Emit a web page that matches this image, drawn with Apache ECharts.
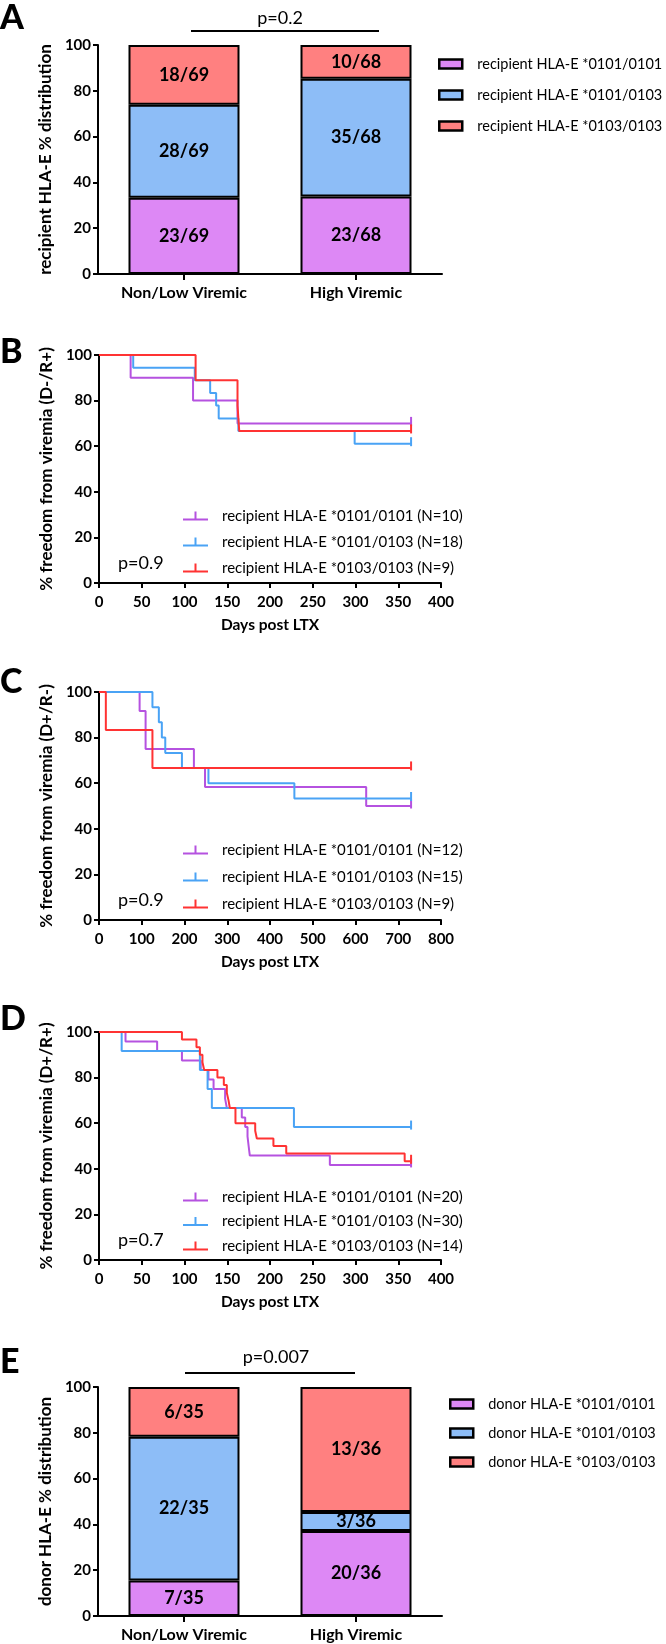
<!DOCTYPE html>
<html>
<head>
<meta charset="utf-8">
<script src="https://cdn.jsdelivr.net/npm/echarts@6/dist/echarts.min.js"></script>
<style>html,body{margin:0;padding:0;background:#fff}#c{width:666px;height:1644px}</style>
</head>
<body>
<div id="c"></div>
<script>
// ---------- DATA ----------
const categories = ['Non/Low Viremic', 'High Viremic'];

const aNames = ['recipient HLA-E *0101/0101', 'recipient HLA-E *0101/0103', 'recipient HLA-E *0103/0103'];
const aPct = [[33.3, 33.8], [40.6, 51.5], [26.1, 14.7]];
const aLabels = [['23/69', '23/68'], ['28/69', '35/68'], ['18/69', '10/68']];

const eNames = ['donor HLA-E *0101/0101', 'donor HLA-E *0101/0103', 'donor HLA-E *0103/0103'];
const ePct = [[15.5, 37.1], [62.8, 8.3], [21.7, 54.6]];
const eLabels = [['7/35', '20/36'], ['22/35', '3/36'], ['6/35', '13/36']];

// Panel B (D-/R+)
const bNames = ['recipient HLA-E *0101/0101 (N=10)', 'recipient HLA-E *0101/0103 (N=18)', 'recipient HLA-E *0103/0103 (N=9)'];
const bPurpleT = [0, 37, 110, 162, 365];
const bPurpleS = [100, 90, 80, 70, 70];
const bBlueT = [0, 40, 112, 130, 137, 140, 163, 299, 365];
const bBlueS = [100, 94.4, 88.9, 83.3, 77.8, 72.2, 66.7, 61.1, 61.1];
const bRedT = [0, 113, 162, 164, 365];
const bRedS = [100, 88.9, 77.8, 66.7, 66.7];
const bCensor = [365];

// Panel C (D+/R-)
const cNames = ['recipient HLA-E *0101/0101 (N=12)', 'recipient HLA-E *0101/0103 (N=15)', 'recipient HLA-E *0103/0103 (N=9)'];
const cPurpleT = [0, 95, 109, 222, 248, 625, 730];
const cPurpleS = [100, 91.7, 75, 66.7, 58.3, 50, 50];
const cBlueT = [0, 125, 140, 147, 155, 194, 256, 457, 730];
const cBlueS = [100, 93.3, 86.7, 80, 73.3, 66.7, 60, 53.3, 53.3];
const cRedT = [0, 16, 125, 730];
const cRedS = [100, 83.3, 66.7, 66.7];
const cCensor = [730];

// Panel D (D+/R+)
const dNames = ['recipient HLA-E *0101/0101 (N=20)', 'recipient HLA-E *0101/0103 (N=30)', 'recipient HLA-E *0103/0103 (N=14)'];
const dPurpleT = [0, 31, 68, 97, 119, 128, 134, 147.5, 149.5, 167, 171, 173.7, 175, 176.4, 270, 365];
const dPurpleS = [100, 95.8, 91.7, 87.5, 83.3, 79.2, 75, 70.8, 66.7, 62.5, 58.3, 54.2, 50, 45.8, 41.7, 41.7];
const dBlueT = [0, 26.5, 118, 127, 132, 228, 365];
const dBlueS = [100, 91.7, 83.3, 75, 66.7, 58.3, 58.3];
const dRedT = [0, 97, 114, 118, 121, 123, 138.5, 146, 149.5, 151.5, 153, 159.6, 182.7, 184.6, 204, 219, 357.5, 365];
const dRedS = [100, 96.7, 93.3, 90, 86.7, 83.3, 80, 76.7, 73.3, 70, 66.7, 60, 56.7, 53.3, 50, 46.7, 43.3, 43.3];
const dCensor = [365];

// ---------- STYLE ----------
const FONT = 'Lato';
const barColors = ['#DD88F5', '#8DBDF7', '#FF8080'];
const lineColors = ['#B552E0', '#4AA3F5', '#FF3333'];

const grids = [
  {left: 98, top: 45, width: 344, height: 229},
  {left: 99, top: 355, width: 342, height: 228},
  {left: 99, top: 692, width: 342, height: 228},
  {left: 99, top: 1032, width: 342, height: 228},
  {left: 98, top: 1387, width: 344, height: 229}
];

function yAxisFor(gi, name) {
  return {
    type: 'value', gridIndex: gi, min: 0, max: 100, interval: 20,
    name: name, nameLocation: 'middle', nameGap: 33,
    nameTextStyle: {fontFamily: FONT, fontWeight: 'bold', fontSize: 17, color: '#000'},
    axisLine: {show: true, lineStyle: {color: '#000', width: 2}},
    axisTick: {show: true, length: 5, lineStyle: {color: '#000', width: 2}},
    axisLabel: {fontFamily: FONT, fontWeight: 'bold', fontSize: 15, color: '#000', margin: 7},
    splitLine: {show: false}
  };
}
function catAxisFor(gi) {
  return {
    type: 'category', gridIndex: gi, data: categories,
    axisLine: {show: true, lineStyle: {color: '#000', width: 2}},
    axisTick: {show: true, alignWithLabel: true, length: 6, lineStyle: {color: '#000', width: 2}},
    axisLabel: {fontFamily: FONT, fontWeight: 'bold', fontSize: 16, color: '#000', margin: 11}
  };
}
function valXAxisFor(gi, max, interval) {
  return {
    type: 'value', gridIndex: gi, min: 0, max: max, interval: interval,
    name: 'Days post LTX', nameLocation: 'middle', nameGap: 34,
    nameTextStyle: {fontFamily: FONT, fontWeight: 'bold', fontSize: 15.5, color: '#000'},
    axisLine: {show: true, onZero: false, lineStyle: {color: '#000', width: 2}},
    axisTick: {show: true, length: 5, lineStyle: {color: '#000', width: 2}},
    axisLabel: {fontFamily: FONT, fontWeight: 'bold', fontSize: 15, color: '#000', margin: 12},
    splitLine: {show: false}
  };
}

function barSeries(names, pct, labels, gi) {
  return names.map((n, k) => ({
    type: 'bar', name: n, stack: 'st' + gi, xAxisIndex: gi, yAxisIndex: gi,
    barWidth: 111,
    data: pct[k].map((v, j) => ({value: v, lab: labels[k][j]})),
    itemStyle: {color: barColors[k], borderColor: '#000', borderWidth: 2},
    label: {show: true, position: 'inside', formatter: p => p.data.lab,
      fontFamily: FONT, fontWeight: 'bold', fontSize: 18, color: '#000'}
  }));
}

function kmSeries(name, T, S, censor, color, gi) {
  return {
    type: 'line', name: name, step: 'end', xAxisIndex: gi, yAxisIndex: gi,
    symbol: 'none', showSymbol: true,
    lineStyle: {color: color, width: 2},
    itemStyle: {color: color},
    data: T.map((t, i) => {
      const it = {value: [t, S[i]]};
      if (censor.indexOf(t) >= 0 && i === T.length - 1) {
        it.symbol = 'rect'; it.symbolSize = [2, 9]; it.symbolOffset = [0, -2];
      }
      return it;
    }),
    animation: false
  };
}

const kmIcon = 'path://M0,7h25v2h-25z M11.5,0h2v7h-2z';
function kmLegend(names, left, top, gap) {
  return {
    data: names, orient: 'vertical', left: left, top: top, itemGap: gap, padding: 0,
    icon: kmIcon, itemWidth: 25, itemHeight: 9, selectedMode: false,
    textStyle: {fontFamily: FONT, fontSize: 15, color: '#000', padding: [0, 0, 0, 9], lineHeight: 16}
  };
}
function barLegend(names, left, top, gap) {
  return {
    data: names, orient: 'vertical', left: left, top: top, itemGap: gap, padding: 0,
    icon: 'rect', itemWidth: 23, itemHeight: 9, selectedMode: false,
    itemStyle: {borderColor: '#000', borderWidth: 2.5},
    textStyle: {fontFamily: FONT, fontSize: 14.5, color: '#000', padding: [0, 0, 0, 10], lineHeight: 16}
  };
}

function txt(x, y, s, size, weight, align) {
  return {type: 'text', x: x, y: y, style: {text: s, fontFamily: FONT, fontSize: size, fontWeight: weight || 'normal',
    fill: '#000', align: align || 'left', verticalAlign: 'middle'}};
}
function hline(x1, x2, y) {
  return {type: 'line', shape: {x1: x1, y1: y, x2: x2, y2: y}, style: {stroke: '#000', lineWidth: 2}};
}

const option = {
  animation: false,
  grid: grids,
  xAxis: [catAxisFor(0), valXAxisFor(1, 400, 50), valXAxisFor(2, 800, 100), valXAxisFor(3, 400, 50), catAxisFor(4)],
  yAxis: [
    yAxisFor(0, 'recipient HLA-E % distribution'),
    yAxisFor(1, '% freedom from viremia (D-/R+)'),
    yAxisFor(2, '% freedom from viremia (D+/R-)'),
    yAxisFor(3, '% freedom from viremia (D+/R+)'),
    yAxisFor(4, 'donor HLA-E % distribution')
  ],
  legend: [
    barLegend(aNames, 438, 56, 15),
    kmLegend(bNames, 183, 508, 10),
    kmLegend(cNames, 183, 842, 11),
    kmLegend(dNames, 183, 1189, 8.5),
    barLegend(eNames, 449, 1396, 13)
  ],
  series: [].concat(
    barSeries(aNames, aPct, aLabels, 0),
    [kmSeries(bNames[0], bPurpleT, bPurpleS, bCensor, lineColors[0], 1),
     kmSeries(bNames[1], bBlueT, bBlueS, bCensor, lineColors[1], 1),
     kmSeries(bNames[2], bRedT, bRedS, bCensor, lineColors[2], 1)],
    [kmSeries(cNames[0], cPurpleT, cPurpleS, cCensor, lineColors[0], 2),
     kmSeries(cNames[1], cBlueT, cBlueS, cCensor, lineColors[1], 2),
     kmSeries(cNames[2], cRedT, cRedS, cCensor, lineColors[2], 2)],
    [kmSeries(dNames[0], dPurpleT, dPurpleS, dCensor, lineColors[0], 3),
     kmSeries(dNames[1], dBlueT, dBlueS, dCensor, lineColors[1], 3),
     kmSeries(dNames[2], dRedT, dRedS, dCensor, lineColors[2], 3)],
    barSeries(eNames, ePct, eLabels, 4)
  ),
  graphic: [
    txt(0, 18, 'A', 34, '900'),
    txt(280, 18, 'p=0.2', 18, 'normal', 'center'),
    hline(191, 379, 31),
    txt(0, 352, 'B', 34, '900'),
    txt(118, 563, 'p=0.9', 18),
    txt(0, 682, 'C', 34, '900'),
    txt(118, 900, 'p=0.9', 18),
    txt(0, 1019, 'D', 34, '900'),
    txt(118, 1240, 'p=0.7', 18),
    txt(0, 1362, 'E', 34, '900'),
    txt(276, 1357, 'p=0.007', 18, 'normal', 'center'),
    hline(185, 355, 1373)
  ]
};

const chart = echarts.init(document.getElementById('c'), null, {renderer: 'canvas'});
chart.setOption(option);
</script>
</body>
</html>
